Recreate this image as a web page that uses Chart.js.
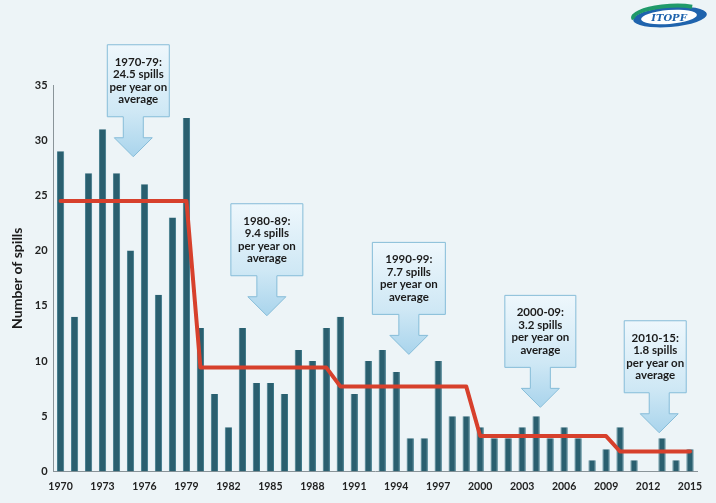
<!DOCTYPE html>
<html>
<head>
<meta charset="utf-8">
<script src="https://cdn.jsdelivr.net/npm/chart.js@4.4.1/dist/chart.umd.min.js"></script>
<style>
  html, body { margin: 0; padding: 0; background: #edf4f7; }
  #wrap { width: 716px; height: 503px; }
</style>
</head>
<body>
<div id="wrap"><canvas id="myChart" width="716" height="503"></canvas></div>
<script>
// years 1970 - 2015
var years = ['1970','1971','1972','1973','1974','1975','1976','1977','1978','1979',
  '1980','1981','1982','1983','1984','1985','1986','1987','1988','1989',
  '1990','1991','1992','1993','1994','1995','1996','1997','1998','1999',
  '2000','2001','2002','2003','2004','2005','2006','2007','2008','2009',
  '2010','2011','2012','2013','2014','2015'];

// number of large spills per year
var spills = [29, 14, 27, 31, 27, 20, 26, 16, 23, 32,
  13, 7, 4, 13, 8, 8, 7, 11, 10, 13,
  14, 7, 10, 11, 9, 3, 3, 10, 5, 5,
  4, 3, 3, 4, 5, 3, 4, 3, 1, 2,
  4, 1, 0, 3, 1, 2];

// decade averages
var periodStart = [1970, 1980, 1990, 2000, 2010];
var periodEnd = [1979, 1989, 1999, 2009, 2015];
var periodAvg = [24.5, 9.4, 7.7, 3.2, 1.8];

var calloutText = [
  ['1970-79:', '24.5 spills', 'per year on', 'average'],
  ['1980-89:', '9.4 spills', 'per year on', 'average'],
  ['1990-99:', '7.7 spills', 'per year on', 'average'],
  ['2000-09:', '3.2 spills', 'per year on', 'average'],
  ['2010-15:', '1.8 spills', 'per year on', 'average']
];

var yTicks = [0, 5, 10, 15, 20, 25, 30, 35];

// average line, one point per year
var avgLine = years.map(function(y){
  var yr = parseInt(y);
  for (var i=0; i<periodStart.length; i++){
    if (yr >= periodStart[i] && yr <= periodEnd[i]) return periodAvg[i];
  }
  return null;
});

// where the arrows point (category index, value) and box look
var callouts = [
  {at: 5.2,  val: 28.5, w: 62, dx: 5},
  {at: 14.75, val: 14.1, w: 72, dx: 0},
  {at: 24.9, val: 10.6, w: 73, dx: 0},
  {at: 34.3, val: 5.8,  w: 71, dx: 0},
  {at: 42.8, val: 3.5,  w: 62, dx: -4}
];

var calloutPlugin = {
  id: 'callouts',
  afterDatasetsDraw: function(chart){
    var ctx = chart.ctx;
    var xs = chart.scales.x, ys = chart.scales.y;
    callouts.forEach(function(c, n){
      var tx = xs.getPixelForValue(c.at);
      var ty = ys.getPixelForValue(c.val);
      var h = 72, shaftW = 20, shaftH = 21, headW = 38, headH = 19;
      var bb = ty - headH - shaftH;
      var bt = bb - h;
      var cx = tx + c.dx;
      var l = cx - c.w/2, r = cx + c.w/2;
      ctx.save();
      ctx.beginPath();
      ctx.moveTo(l, bt);
      ctx.lineTo(r, bt);
      ctx.lineTo(r, bb);
      ctx.lineTo(tx + shaftW/2, bb);
      ctx.lineTo(tx + shaftW/2, bb + shaftH);
      ctx.lineTo(tx + headW/2, bb + shaftH);
      ctx.lineTo(tx, ty);
      ctx.lineTo(tx - headW/2, bb + shaftH);
      ctx.lineTo(tx - shaftW/2, bb + shaftH);
      ctx.lineTo(tx - shaftW/2, bb);
      ctx.lineTo(l, bb);
      ctx.closePath();
      var g = ctx.createLinearGradient(0, bt, 0, ty);
      g.addColorStop(0, '#eef7fc');
      g.addColorStop(0.6, '#cfe8f5');
      g.addColorStop(1, '#a9d4ec');
      ctx.fillStyle = g;
      ctx.fill();
      ctx.strokeStyle = '#86bcd8';
      ctx.lineWidth = 1;
      ctx.stroke();
      ctx.fillStyle = '#1b1b1b';
      ctx.font = 'bold 11.5px Lato';
      ctx.textAlign = 'center';
      ctx.textBaseline = 'middle';
      var lines = calloutText[n];
      var mid = (bt + bb)/2;
      for (var i=0; i<lines.length; i++){
        ctx.fillText(lines[i], cx, mid + (i - 1.5)*12.5);
      }
      ctx.restore();
    });
  }
};

var logoPlugin = {
  id: 'logo',
  afterDraw: function(chart){
    var ctx = chart.ctx;
    ctx.save();
    ctx.beginPath();
    ctx.ellipse(670, 17, 37, 10, -0.08, 0, Math.PI*2);
    ctx.fillStyle = '#1f63ad';
    ctx.fill();
    ctx.beginPath();
    ctx.ellipse(668, 15, 35, 9, -0.08, Math.PI*0.95, Math.PI*1.75);
    ctx.lineWidth = 4;
    ctx.strokeStyle = '#1f9a6a';
    ctx.stroke();
    ctx.beginPath();
    ctx.ellipse(669, 17, 28, 7, -0.08, 0, Math.PI*2);
    ctx.fillStyle = '#ffffff';
    ctx.fill();
    ctx.fillStyle = '#1f63ad';
    ctx.font = 'italic bold 10px "DejaVu Serif"';
    ctx.textAlign = 'center';
    ctx.textBaseline = 'middle';
    ctx.fillText('ITOPF', 669, 18);
    ctx.restore();
  }
};

var ctx = document.getElementById('myChart').getContext('2d');
var data = {
  labels: years,
  datasets: [
    {
      type: 'line',
      label: 'Average',
      data: avgLine,
      borderColor: '#d7402c',
      borderWidth: 4,
      pointRadius: 0,
      tension: 0,
      fill: false,
      borderJoinStyle: 'round',
      borderCapStyle: 'round',
      order: 0
    },
    {
      type: 'bar',
      label: 'Number of spills',
      data: spills,
      backgroundColor: '#2a5f6f',
      borderColor: '#3c7788',
      borderWidth: {left: 1, right: 1, top: 0, bottom: 0},
      barPercentage: 0.52,
      categoryPercentage: 1,
      order: 1
    }
  ]
};

var myChart = new Chart(ctx, {
  data: data,
  options: {
    responsive: false,
    animation: false,
    layout: { padding: { top: 85, right: 19, bottom: 1, left: 9 } },
    plugins: {
      legend: { display: false },
      tooltip: { enabled: false }
    },
    scales: {
      x: {
        offset: true,
        grid: { display: false, drawTicks: false },
        border: { display: true, color: '#8a9499' },
        ticks: {
          autoSkip: false,
          maxRotation: 0,
          padding: 9,
          color: '#222',
          font: { family: 'Lato', weight: 'bold', size: 10.5 },
          callback: function(v, i){ return i % 3 === 0 ? years[i] : ''; }
        }
      },
      y: {
        min: 0,
        max: 35,
        grid: { display: false, drawTicks: false },
        border: { display: true, color: '#8a9499' },
        afterBuildTicks: function(axis){
          axis.ticks = yTicks.map(function(v){ return {value: v}; });
        },
        ticks: {
          padding: 6,
          color: '#222',
          font: { family: 'Lato', weight: 'bold', size: 11 }
        },
        title: {
          display: true,
          text: 'Number of spills',
          color: '#1b1b1b',
          padding: { top: 0, bottom: 3 },
          font: { family: 'Lato', weight: 'bold', size: 14 }
        }
      }
    }
  },
  plugins: [calloutPlugin, logoPlugin]
});
</script>
</body>
</html>
